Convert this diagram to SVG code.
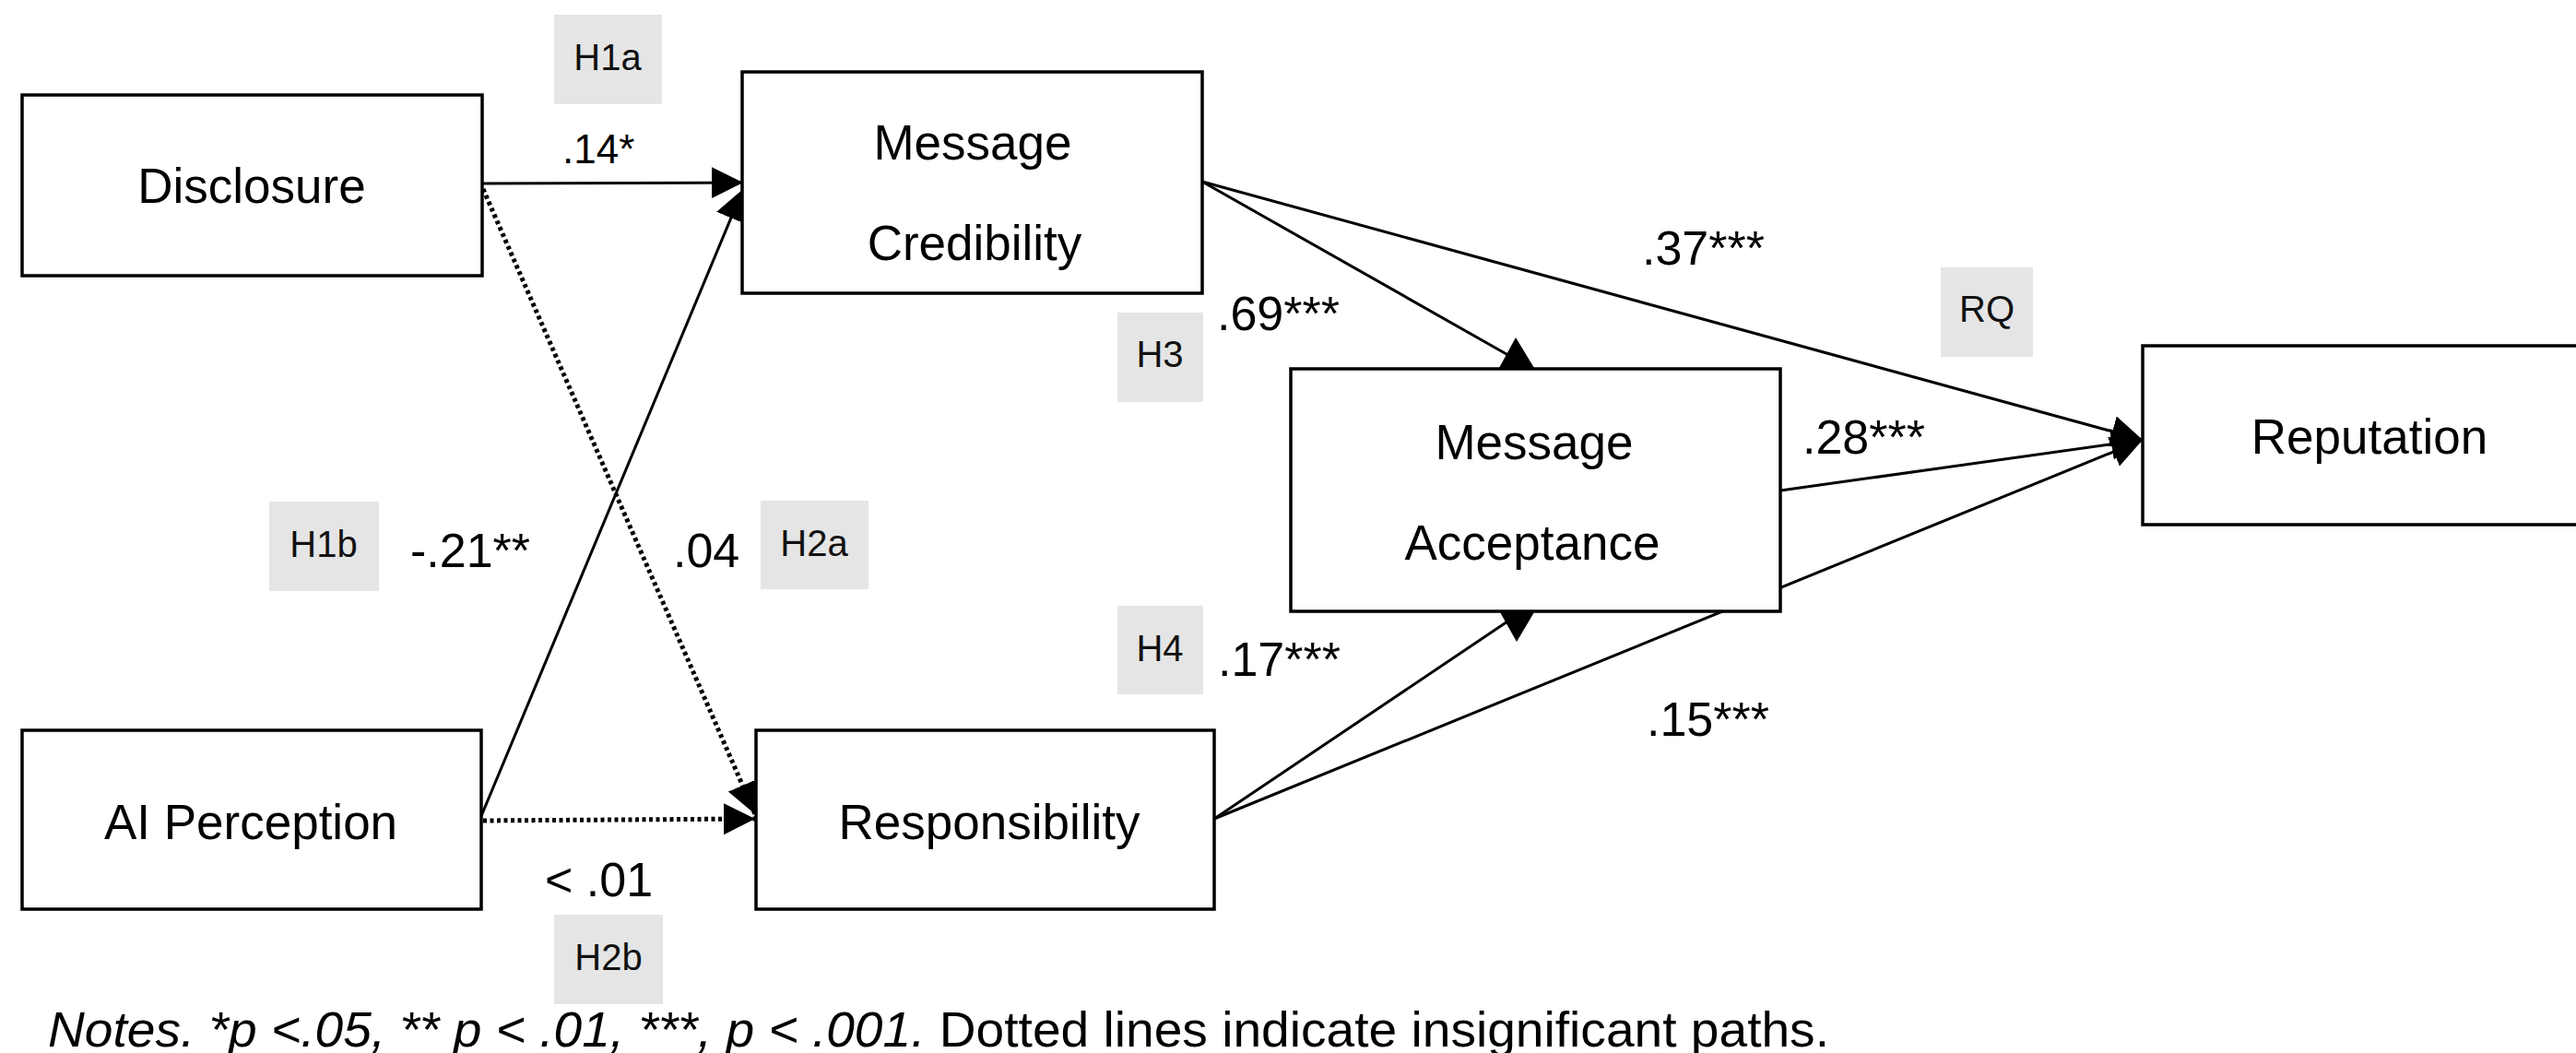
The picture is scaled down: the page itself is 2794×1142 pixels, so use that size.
<svg xmlns="http://www.w3.org/2000/svg" width="2794" height="1142" viewBox="0 0 2794 1142">
<style>
.box{fill:#fff;stroke:#000;stroke-width:3.5}
.node{font-family:"Liberation Sans",Arial,sans-serif;font-size:53px;fill:#000;text-anchor:middle}
.hyp{fill:#e5e5e5}
.hyptxt{font-family:"Liberation Sans",Arial,sans-serif;font-size:40px;fill:#111;text-anchor:middle}
.coef{font-family:"Liberation Sans",Arial,sans-serif;font-size:52px;fill:#000}
.line{stroke:#000;stroke-width:3;fill:none}
.dot{stroke:#000;stroke-width:5;fill:none;stroke-dasharray:4 3.5}
.note{font-family:"Liberation Sans",Arial,sans-serif;font-size:54px;fill:#000}
</style>
<defs>
<marker id="arr" viewBox="0 0 10 10" refX="10" refY="5" markerUnits="userSpaceOnUse" markerWidth="34" markerHeight="36" orient="auto">
<path d="M0,0 L10,5 L0,10 z" fill="#000"/>
</marker>
</defs>
<rect width="2794" height="1142" fill="#fff"/>

<g id="connectors">
<line class="line" x1="523" y1="199" x2="806" y2="198" marker-end="url(#arr)"/>
<line class="line" x1="522" y1="885" x2="806" y2="205" marker-end="url(#arr)"/>
<line class="dot" x1="524" y1="205" x2="819" y2="883" marker-end="url(#arr)"/>
<line class="dot" x1="524" y1="890" x2="819" y2="888" marker-end="url(#arr)"/>
<line class="line" x1="1304" y1="197" x2="1641" y2="388"/>
<polygon points="1626,399 1664,399 1644,366" fill="#000"/>
<line class="line" x1="1304" y1="197" x2="2324" y2="477" marker-end="url(#arr)"/>
<line class="line" x1="1931" y1="532" x2="2324" y2="477" marker-end="url(#arr)"/>
<line class="line" x1="1317" y1="888" x2="1644" y2="668"/>
<polygon points="1627,664 1664,664 1645,696" fill="#000"/>
<line class="line" x1="1317" y1="888" x2="2324" y2="477" marker-end="url(#arr)"/>
</g>

<g id="node-disclosure">
<rect class="box" x="24" y="103" width="499" height="196"/>
<text class="node" x="273" y="220">Disclosure</text>
</g>
<g id="node-message-credibility">
<rect class="box" x="805" y="78" width="499" height="240"/>
<text class="node" x="1055" y="173">Message</text>
<text class="node" x="1057" y="282">Credibility</text>
</g>
<g id="node-message-acceptance">
<rect class="box" x="1400" y="400" width="531" height="263"/>
<text class="node" x="1664" y="498">Message</text>
<text class="node" x="1662" y="607">Acceptance</text>
</g>
<g id="node-reputation">
<rect class="box" x="2324" y="375" width="500" height="194"/>
<text class="node" x="2570" y="492">Reputation</text>
</g>
<g id="node-ai-perception">
<rect class="box" x="24" y="792" width="498" height="194"/>
<text class="node" x="272" y="910">AI Perception</text>
</g>
<g id="node-responsibility">
<rect class="box" x="820" y="792" width="497" height="194"/>
<text class="node" x="1073" y="910">Responsibility</text>
</g>

<g id="hyp-h1a"><rect class="hyp" x="601" y="16" width="117" height="97"/><text class="hyptxt" x="659" y="76">H1a</text></g>
<g id="hyp-h1b"><rect class="hyp" x="292" y="544" width="119" height="97"/><text class="hyptxt" x="351" y="604">H1b</text></g>
<g id="hyp-h2a"><rect class="hyp" x="825" y="543" width="117" height="96"/><text class="hyptxt" x="883" y="603">H2a</text></g>
<g id="hyp-h2b"><rect class="hyp" x="601" y="992" width="118" height="97"/><text class="hyptxt" x="660" y="1052">H2b</text></g>
<g id="hyp-h3"><rect class="hyp" x="1212" y="339" width="93" height="97"/><text class="hyptxt" x="1258" y="398">H3</text></g>
<g id="hyp-h4"><rect class="hyp" x="1212" y="657" width="93" height="96"/><text class="hyptxt" x="1258" y="717">H4</text></g>
<g id="hyp-rq"><rect class="hyp" x="2105" y="290" width="100" height="97"/><text class="hyptxt" x="2155" y="349">RQ</text></g>

<g id="coefficients">
<text class="coef" x="610" y="177" style="font-size:44px">.14*</text>
<text class="coef" x="1320" y="358">.69***</text>
<text class="coef" x="1781" y="287">.37***</text>
<text class="coef" x="1955" y="492">.28***</text>
<text class="coef" x="1321" y="733">.17***</text>
<text class="coef" x="1786" y="798">.15***</text>
<text class="coef" x="445" y="615">-.21**</text>
<text class="coef" x="730" y="615">.04</text>
<text class="coef" x="591" y="972">&lt; .01</text>
</g>

<text class="note" x="52" y="1135" textLength="1932" lengthAdjust="spacingAndGlyphs"><tspan font-style="italic">Notes. *p &lt;.05, ** p &lt; .01, ***, p &lt; .001.</tspan> Dotted lines indicate insignificant paths.</text>
</svg>
